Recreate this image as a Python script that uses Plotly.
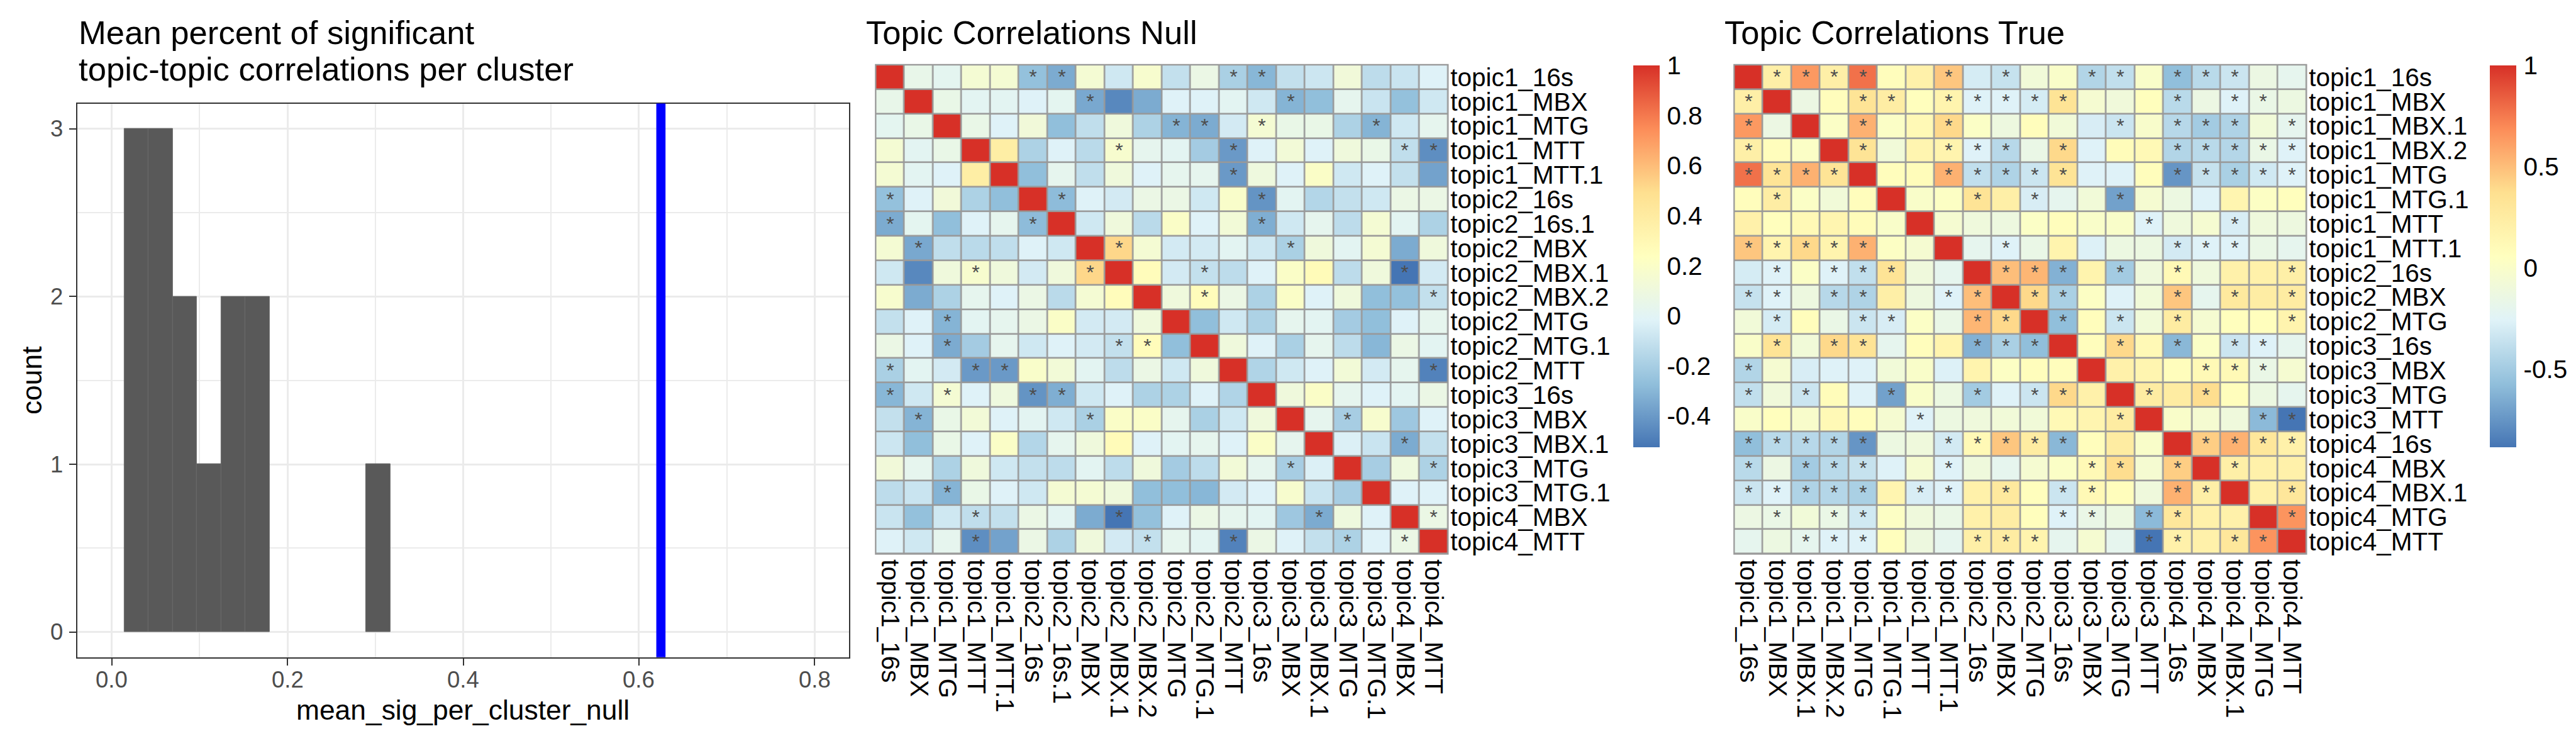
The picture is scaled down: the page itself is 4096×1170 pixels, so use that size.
import plotly.graph_objects as go

# ---------------- data ----------------
hist_bin_left = [0.0145, 0.042, 0.0695, 0.097, 0.1245, 0.152, 0.2895]
hist_counts = [3, 3, 2, 1, 2, 2, 1]
hist_binwidth = 0.0275
true_mean_sig = 0.625
hist_xticks = [0.0, 0.2, 0.4, 0.6, 0.8]
hist_yticks = [0, 1, 2, 3]

null_labels = ["topic1_16s", "topic1_MBX", "topic1_MTG", "topic1_MTT", "topic1_MTT.1",
               "topic2_16s", "topic2_16s.1", "topic2_MBX", "topic2_MBX.1", "topic2_MBX.2",
               "topic2_MTG", "topic2_MTG.1", "topic2_MTT", "topic3_16s", "topic3_MBX",
               "topic3_MBX.1", "topic3_MTG", "topic3_MTG.1", "topic4_MBX", "topic4_MTT"]

null_corr = [
    [1.00, 0.05, 0.02, 0.15, 0.15, -0.26, -0.34, 0.15, -0.07, 0.17, -0.11, 0.07, -0.19, -0.30, -0.11, -0.08, 0.12, -0.13, -0.09, -0.02],
    [0.05, 1.00, 0.06, 0.01, 0.01, -0.02, 0.02, -0.35, -0.46, -0.34, -0.02, -0.02, 0.01, -0.07, -0.31, -0.27, 0.03, -0.09, -0.26, -0.07],
    [0.02, 0.06, 1.00, 0.06, -0.02, 0.12, -0.27, -0.12, 0.11, -0.18, -0.31, -0.34, -0.06, 0.15, 0.06, 0.06, -0.18, -0.31, -0.07, 0.03],
    [0.15, 0.01, 0.06, 1.00, 0.38, -0.18, -0.02, -0.14, 0.17, 0.03, 0.01, -0.21, -0.40, -0.02, 0.13, -0.02, 0.11, 0.06, -0.12, -0.44],
    [0.15, 0.01, -0.02, 0.38, 1.00, -0.27, 0.03, -0.12, 0.11, -0.02, 0.03, 0.03, -0.40, 0.10, -0.02, 0.20, -0.07, -0.02, -0.11, -0.37],
    [-0.26, -0.02, 0.12, -0.18, -0.27, 1.00, -0.28, -0.02, -0.06, 0.07, 0.07, -0.07, 0.19, -0.42, 0.01, -0.16, -0.11, -0.07, 0.07, 0.07],
    [-0.34, 0.02, -0.27, -0.02, 0.03, -0.28, 1.00, -0.07, 0.11, -0.14, 0.20, -0.02, 0.13, -0.33, -0.07, 0.03, -0.13, 0.15, 0.01, -0.18],
    [0.15, -0.35, -0.12, -0.14, -0.12, -0.02, -0.07, 1.00, 0.52, 0.15, -0.06, -0.06, 0.01, -0.07, -0.19, 0.11, 0.01, 0.15, -0.34, 0.11],
    [-0.07, -0.46, 0.11, 0.17, 0.11, -0.06, 0.11, 0.52, 1.00, 0.26, -0.06, -0.11, -0.13, -0.02, 0.20, 0.27, -0.13, 0.11, -0.525, -0.06],
    [0.17, -0.34, -0.18, 0.03, -0.02, 0.07, -0.14, 0.15, 0.26, 1.00, 0.11, 0.26, 0.07, -0.18, 0.20, -0.02, 0.11, -0.27, -0.26, -0.11],
    [-0.11, -0.02, -0.31, 0.01, 0.03, 0.07, 0.20, -0.06, -0.06, 0.11, 1.00, -0.27, -0.07, -0.18, 0.03, 0.01, -0.21, -0.27, -0.02, 0.03],
    [0.07, -0.02, -0.34, -0.21, 0.03, -0.07, -0.02, -0.06, -0.11, 0.26, -0.27, 1.00, 0.11, -0.02, -0.19, 0.03, -0.13, -0.30, 0.07, 0.01],
    [-0.19, 0.01, -0.06, -0.40, -0.40, 0.19, 0.13, 0.01, -0.13, 0.07, -0.07, 0.11, 1.00, -0.17, -0.07, -0.02, 0.13, -0.06, 0.03, -0.48],
    [-0.30, -0.07, 0.15, -0.02, 0.10, -0.42, -0.33, -0.07, -0.02, -0.18, -0.18, -0.02, -0.17, 1.00, 0.11, 0.20, 0.03, -0.02, 0.01, 0.07],
    [-0.11, -0.31, 0.06, 0.13, -0.02, 0.01, -0.07, -0.19, 0.20, 0.20, 0.03, -0.19, -0.07, 0.11, 1.00, 0.03, -0.20, 0.17, -0.23, -0.02],
    [-0.08, -0.27, 0.06, -0.02, 0.20, -0.16, 0.03, 0.11, 0.27, -0.02, 0.01, 0.03, -0.02, 0.20, 0.03, 1.00, -0.03, -0.09, -0.34, -0.11],
    [0.12, 0.03, -0.18, 0.11, -0.07, -0.11, -0.13, 0.01, -0.13, 0.11, -0.21, -0.13, 0.13, 0.03, -0.20, -0.03, 1.00, -0.20, 0.10, -0.18],
    [-0.13, -0.09, -0.31, 0.06, -0.02, -0.07, 0.15, 0.15, 0.11, -0.27, -0.27, -0.30, -0.06, -0.02, 0.17, -0.09, -0.20, 1.00, -0.02, -0.02],
    [-0.09, -0.26, -0.07, -0.12, -0.11, 0.07, 0.01, -0.34, -0.525, -0.26, -0.02, 0.07, 0.03, 0.01, -0.23, -0.34, 0.10, -0.02, 1.00, 0.07],
    [-0.02, -0.07, 0.03, -0.44, -0.37, 0.07, -0.18, 0.11, -0.06, -0.11, 0.03, 0.01, -0.48, 0.07, -0.02, -0.11, -0.18, -0.02, 0.07, 1.00],
]

# significant cells (1-based column indices per row)
null_sig = [
    [6, 7, 13, 14], [8, 15], [11, 12, 14, 18], [9, 13, 19, 20], [13],
    [1, 7, 14], [1, 6, 14], [2, 9, 15], [4, 8, 12, 19], [12, 20],
    [3], [3, 9, 10], [1, 4, 5, 20], [1, 3, 6, 7], [2, 8, 17],
    [19], [15, 20], [3], [4, 9, 16, 20], [4, 10, 13, 17, 19],
]

true_labels = ["topic1_16s", "topic1_MBX", "topic1_MBX.1", "topic1_MBX.2", "topic1_MTG",
               "topic1_MTG.1", "topic1_MTT", "topic1_MTT.1", "topic2_16s", "topic2_MBX",
               "topic2_MTG", "topic3_16s", "topic3_MBX", "topic3_MTG", "topic3_MTT",
               "topic4_16s", "topic4_MBX", "topic4_MBX.1", "topic4_MTG", "topic4_MTT"]

true_corr = [
    [1.00, 0.22, 0.64, 0.22, 0.78, 0.08, 0.20, 0.47, -0.30, -0.36, -0.08, 0.00, -0.44, -0.38, 0.00, -0.57, -0.41, -0.34, -0.14, -0.20],
    [0.22, 1.00, -0.14, 0.08, 0.33, 0.24, 0.07, 0.17, -0.26, -0.26, -0.30, 0.33, -0.04, -0.09, 0.07, -0.41, -0.14, -0.26, -0.16, -0.13],
    [0.64, -0.14, 1.00, 0.02, 0.55, 0.02, 0.12, 0.40, 0.02, -0.12, 0.08, -0.08, -0.29, -0.34, -0.01, -0.42, -0.50, -0.45, -0.08, -0.20],
    [0.22, 0.08, 0.02, 1.00, 0.33, -0.08, 0.16, 0.17, -0.26, -0.42, -0.16, 0.40, -0.26, 0.09, 0.12, -0.44, -0.41, -0.43, -0.16, -0.26],
    [0.78, 0.33, 0.55, 0.33, 1.00, 0.08, 0.09, 0.55, -0.38, -0.45, -0.34, 0.33, -0.26, -0.26, 0.08, -0.75, -0.36, -0.47, -0.32, -0.26],
    [0.08, 0.24, 0.02, -0.08, 0.08, 1.00, 0.00, 0.03, 0.33, 0.22, -0.29, -0.20, -0.08, -0.70, -0.04, -0.13, -0.26, 0.16, 0.03, 0.07],
    [0.20, 0.07, 0.12, 0.16, 0.09, 0.00, 1.00, -0.04, -0.10, -0.12, 0.02, 0.08, 0.00, 0.00, -0.26, -0.10, -0.04, -0.29, -0.10, -0.12],
    [0.47, 0.17, 0.40, 0.17, 0.55, 0.03, -0.04, 1.00, -0.20, -0.26, -0.16, 0.17, -0.27, -0.13, -0.13, -0.31, -0.26, -0.26, -0.16, -0.20],
    [-0.30, -0.26, 0.02, -0.26, -0.38, 0.33, -0.10, -0.20, 1.00, 0.50, 0.53, -0.63, 0.17, -0.50, -0.10, 0.12, -0.10, 0.20, 0.20, 0.22],
    [-0.36, -0.26, -0.12, -0.42, -0.45, 0.22, -0.12, -0.26, 0.50, 1.00, 0.40, -0.47, 0.03, -0.26, -0.08, 0.47, -0.20, 0.28, 0.24, 0.25],
    [-0.08, -0.30, 0.08, -0.16, -0.34, -0.29, 0.02, -0.16, 0.53, 0.40, 1.00, -0.57, 0.08, -0.34, -0.08, 0.25, -0.04, 0.07, 0.07, 0.17],
    [0.00, 0.33, -0.08, 0.40, 0.33, -0.20, 0.08, 0.17, -0.63, -0.47, -0.57, 1.00, 0.08, 0.40, 0.12, -0.60, 0.02, -0.34, -0.26, -0.20],
    [-0.44, -0.04, -0.29, -0.26, -0.26, -0.08, 0.00, -0.27, 0.17, 0.03, 0.08, 0.08, 1.00, 0.20, 0.16, 0.08, 0.12, 0.12, -0.16, -0.04],
    [-0.38, -0.09, -0.34, 0.09, -0.26, -0.70, 0.00, -0.13, -0.50, -0.26, -0.34, 0.40, 0.20, 1.00, 0.25, 0.25, 0.38, 0.08, -0.13, -0.20],
    [0.00, 0.07, -0.01, 0.12, 0.08, -0.04, -0.26, -0.13, -0.10, -0.08, -0.08, 0.12, 0.16, 0.25, 1.00, 0.00, -0.04, -0.10, -0.59, -0.885],
    [-0.57, -0.41, -0.42, -0.44, -0.75, -0.13, -0.10, -0.31, 0.12, 0.47, 0.25, -0.60, 0.08, 0.25, 0.00, 1.00, 0.44, 0.55, 0.30, 0.20],
    [-0.41, -0.14, -0.50, -0.41, -0.36, -0.26, -0.04, -0.26, -0.10, -0.20, -0.04, 0.02, 0.12, 0.38, -0.04, 0.44, 1.00, 0.22, 0.20, 0.20],
    [-0.34, -0.26, -0.45, -0.43, -0.47, 0.16, -0.29, -0.26, 0.20, 0.28, 0.07, -0.34, 0.12, 0.08, -0.10, 0.55, 0.22, 1.00, 0.20, 0.30],
    [-0.14, -0.16, -0.08, -0.16, -0.32, 0.03, -0.10, -0.16, 0.20, 0.24, 0.07, -0.26, -0.16, -0.13, -0.59, 0.30, 0.20, 0.20, 1.00, 0.66],
    [-0.20, -0.13, -0.20, -0.26, -0.26, 0.07, -0.12, -0.20, 0.22, 0.25, 0.17, -0.20, -0.04, -0.20, -0.885, 0.20, 0.20, 0.30, 0.66, 1.00],
]

true_sig = [
    [2, 3, 4, 5, 8, 10, 13, 14, 16, 17, 18],
    [1, 5, 6, 8, 9, 10, 11, 12, 16, 18, 19],
    [1, 5, 8, 14, 16, 17, 18, 20],
    [1, 5, 8, 9, 10, 12, 16, 17, 18, 19, 20],
    [1, 2, 3, 4, 8, 9, 10, 11, 12, 16, 17, 18, 19, 20],
    [2, 9, 11, 14],
    [15, 18],
    [1, 2, 3, 4, 5, 10, 16, 17, 18],
    [2, 4, 5, 6, 10, 11, 12, 14, 16, 20],
    [1, 2, 4, 5, 8, 9, 11, 12, 16, 18, 20],
    [2, 5, 6, 9, 10, 12, 14, 16, 20],
    [2, 4, 5, 9, 10, 11, 14, 16, 18, 19],
    [1, 17, 18, 19],
    [1, 3, 6, 9, 11, 12, 15, 17],
    [7, 14, 19, 20],
    [1, 2, 3, 4, 5, 8, 9, 10, 11, 12, 17, 18, 19, 20],
    [1, 3, 4, 5, 8, 13, 14, 16, 18],
    [1, 2, 3, 4, 5, 7, 8, 10, 12, 13, 16, 17, 20],
    [2, 4, 5, 12, 13, 15, 16, 20],
    [3, 4, 5, 9, 10, 11, 15, 16, 18, 19],
]

null_cb_ticks = [-0.4, -0.2, 0, 0.2, 0.4, 0.6, 0.8, 1]
true_cb_ticks = [-0.5, 0, 0.5, 1]

# ---------------- styling / geometry ----------------
W, H = 4096, 1170
S = 0.975
RW, RH = 4200.0, 1200.0
FONT = "Liberation Sans, Arial, Helvetica, sans-serif"
PAL = ["#4575B4", "#91BFDB", "#E0F3F8", "#FFFFBF", "#FEE090", "#FC8D59", "#D73027"]
COLORSCALE = [[i / 6, c] for i, c in enumerate(PAL)]


def fx(x):
    return x / RW


def fy(y):
    return 1 - y / RH


def star_text(sig, n):
    t = [["" for _ in range(n)] for _ in range(n)]
    for i, cols in enumerate(sig):
        for c in cols:
            t[i][c - 1] = "*"
    return t


def tick_text(v):
    if v == int(v):
        return str(int(v))
    return ("%g" % v)


fig = go.Figure()

# ---- histogram ----
centers = [l + hist_binwidth / 2 for l in hist_bin_left]
fig.add_trace(go.Bar(
    x=centers, y=hist_counts, width=hist_binwidth,
    marker=dict(color="#595959", line=dict(color="#6a6a6a", width=1)),
    xaxis="x", yaxis="y", showlegend=False, hoverinfo="skip"))

# ---- heatmaps ----
HM_TOP, HM_BOT = 95, 897
panels = [
    dict(z=null_corr, labels=null_labels, sig=null_sig, ticks=null_cb_ticks,
         x0=1420, x1=2353, cbx=2655, xa="x2", ya="y2", title="Topic Correlations Null", tx=1402),
    dict(z=true_corr, labels=true_labels, sig=true_sig, ticks=true_cb_ticks,
         x0=2820, x1=3753, cbx=4052, xa="x3", ya="y3", title="Topic Correlations True", tx=2802),
]

GAP = 2.6
shapes = []
annotations = []
for p in panels:
    flat = [v for row in p["z"] for v in row]
    zmin, zmax = min(flat), max(flat)
    fig.add_trace(go.Heatmap(
        z=p["z"], x=p["labels"], y=p["labels"],
        text=star_text(p["sig"], len(p["labels"])), texttemplate="%{text}",
        textfont=dict(family=FONT, size=33 * S, color="#4D4D4D"),
        colorscale=COLORSCALE, zmin=zmin, zmax=zmax,
        xgap=GAP, ygap=GAP, hoverinfo="skip",
        xaxis=p["xa"], yaxis=p["ya"],
        colorbar=dict(
            x=fx(p["cbx"]), xanchor="left", xref="paper",
            y=fy(HM_TOP + 1), yanchor="top", yref="paper",
            len=626 / RH, lenmode="fraction",
            thickness=43 * S, thicknessmode="pixels",
            xpad=0, ypad=0, outlinewidth=0,
            tickvals=p["ticks"], ticktext=[tick_text(v) for v in p["ticks"]],
            ticks="outside", ticklen=4, tickcolor="rgba(0,0,0,0)",
            tickfont=dict(family=FONT, size=40.5, color="black"),
        ),
    ))
    ex = 1.3 / W
    ey = 1.3 / H
    shapes.append(dict(type="rect", xref="paper", yref="paper", layer="below",
                       x0=fx(p["x0"]) - ex, x1=fx(p["x1"]) + ex,
                       y0=fy(HM_BOT) - ey, y1=fy(HM_TOP) + ey,
                       fillcolor="#999999", line=dict(width=0)))
    annotations.append(dict(text=p["title"], xref="paper", yref="paper",
                            x=fx(p["tx"]), y=fy(42), xanchor="left", yanchor="middle",
                            showarrow=False, font=dict(family=FONT, size=54 * S, color="black")))

# blue reference line (spans the whole panel height)
shapes.append(dict(type="line", xref="x", yref="paper", x0=true_mean_sig, x1=true_mean_sig,
                   y0=fy(1066.6), y1=fy(158.5), layer="above",
                   line=dict(color="#0000FF", width=15 * S)))

# histogram tick labels (placed on the axis scales)
TICKFONT = dict(family=FONT, size=37.5 * S, color="#4D4D4D")
for v in hist_xticks:
    annotations.append(dict(text="%.1f" % v, xref="x", yref="paper", x=v, y=fy(1104),
                            xanchor="center", yanchor="middle", showarrow=False, font=TICKFONT))
for v in hist_yticks:
    annotations.append(dict(text=str(v), xref="paper", yref="y", x=fx(96), y=v,
                            xanchor="right", yanchor="middle", showarrow=False, font=TICKFONT))

# histogram title / axis titles
annotations += [
    dict(text="Mean percent of significant", xref="paper", yref="paper", x=fx(118), y=fy(42),
         xanchor="left", yanchor="middle", showarrow=False,
         font=dict(family=FONT, size=54 * S, color="black")),
    dict(text="topic-topic correlations per cluster", xref="paper", yref="paper", x=fx(118), y=fy(102),
         xanchor="left", yanchor="middle", showarrow=False,
         font=dict(family=FONT, size=54 * S, color="black")),
    dict(text="count", xref="paper", yref="paper", x=fx(43), y=fy(612), textangle=-90,
         xanchor="center", yanchor="middle", showarrow=False,
         font=dict(family=FONT, size=45.5 * S, color="black")),
    dict(text="mean_sig_per_cluster_null", xref="paper", yref="paper", x=fx(747), y=fy(1153),
         xanchor="center", yanchor="middle", showarrow=False,
         font=dict(family=FONT, size=45.5 * S, color="black")),
]

grid_major = dict(showgrid=True, gridcolor="#EBEBEB", gridwidth=3)
minor = dict(showgrid=True, gridcolor="#EBEBEB", gridwidth=1.6, ticks="")

hm_axis_common = dict(showgrid=False, zeroline=False, ticks="", showline=False,
                      tickfont=dict(family=FONT, size=40.5, color="black"))

fig.update_layout(
    width=W, height=H, margin=dict(l=0, r=0, t=0, b=0),
    paper_bgcolor="white", plot_bgcolor="rgba(0,0,0,0)",
    showlegend=False, bargap=0, hovermode=False,
    xaxis=dict(domain=[fx(117.8), fx(1376)], anchor="y", range=[-0.0392, 0.8388],
               tickvals=hist_xticks, showticklabels=False,
               minor=dict(dtick=0.1, tick0=0, **minor), **grid_major,
               zeroline=False, showline=True, mirror=True, linecolor="#333333", linewidth=2.3,
               ticks="outside", ticklen=11, tickwidth=2.3, tickcolor="#333333"),
    yaxis=dict(domain=[fy(1066.6), fy(158.5)], anchor="x", range=[-0.15, 3.15],
               tickvals=hist_yticks, showticklabels=False,
               minor=dict(dtick=0.5, tick0=0, **minor), **grid_major,
               zeroline=False, showline=True, mirror=True, linecolor="#333333", linewidth=2.3,
               ticks="outside", ticklen=11, tickwidth=2.3, tickcolor="#333333"),
    xaxis2=dict(domain=[fx(1420), fx(2353)], anchor="y2", side="bottom", tickangle=90,
                tickmode="array", tickvals=null_labels, ticktext=null_labels,
                ticklabelstandoff=8, **hm_axis_common),
    yaxis2=dict(domain=[fy(HM_BOT), fy(HM_TOP)], anchor="x2", side="right", autorange="reversed",
                tickmode="array", tickvals=null_labels, ticktext=null_labels,
                ticklabelstandoff=3, **hm_axis_common),
    xaxis3=dict(domain=[fx(2820), fx(3753)], anchor="y3", side="bottom", tickangle=90,
                tickmode="array", tickvals=true_labels, ticktext=true_labels,
                ticklabelstandoff=8, **hm_axis_common),
    yaxis3=dict(domain=[fy(HM_BOT), fy(HM_TOP)], anchor="x3", side="right", autorange="reversed",
                tickmode="array", tickvals=true_labels, ticktext=true_labels,
                ticklabelstandoff=3, **hm_axis_common),
    shapes=shapes, annotations=annotations,
)

fig.write_html("out.html")
